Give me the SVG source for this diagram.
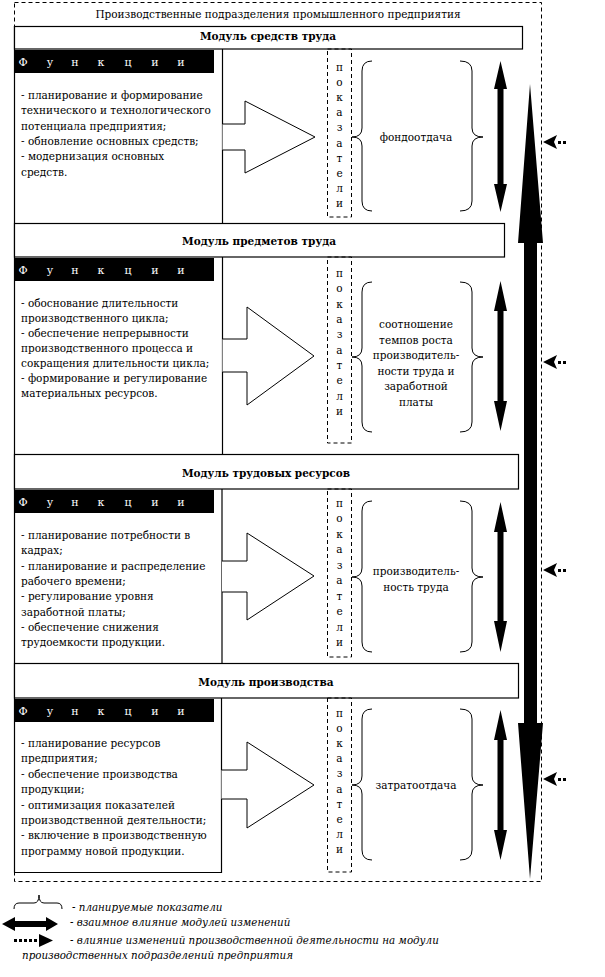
<svg xmlns="http://www.w3.org/2000/svg" width="605" height="977" viewBox="0 0 605 977">
<style>
text{font-family:"DejaVu Serif","Liberation Serif",serif;font-size:10.5px;fill:#000}
.hd{font-weight:bold;text-anchor:middle;font-size:10.5px}
.fn{fill:#fff;text-anchor:middle;font-size:11px}
.mid{text-anchor:middle}
.lg{font-style:italic;font-size:10.3px}
.box{fill:#fff;stroke:#000;stroke-width:1.2}
.ln{fill:none;stroke:#000;stroke-width:1.2}
.dash{fill:none;stroke:#000;stroke-width:1;stroke-dasharray:4 3}
.brace{fill:none;stroke:#000;stroke-width:1}
.blk{fill:#000}
.blockarrow{fill:#fff;stroke:#000;stroke-width:1}
</style>
<rect width="605" height="977" fill="#fff"/>

<g id="enterprise">
<rect x="14.5" y="2.5" width="527" height="879" class="dash"/>
<text x="278" y="18" class="mid">Производственные подразделения промышленного предприятия</text>
</g>

<g id="frame">
<line x1="14.5" y1="26" x2="14.5" y2="872.5" class="ln"/>
</g>

<g id="module1">
<rect x="14.5" y="26.5" width="508" height="22.5" class="box"/>
<text x="268" y="40" class="hd">Модуль средств труда</text>
<rect x="14" y="50" width="200" height="23" class="blk"/>
<text x="23 50 75 101 128 155 181" y="66" class="fn">Функции</text>
<line x1="222.5" y1="49" x2="222.5" y2="223.5" class="ln"/>
<text x="21" y="99">- планирование и формирование</text>
<text x="21" y="114.3">технического и технологического</text>
<text x="21" y="129.6">потенциала предприятия;</text>
<text x="21" y="144.9">- обновление основных средств;</text>
<text x="21" y="160.2">- модернизация основных</text>
<text x="21" y="175.5">средств.</text>
</g>

<g id="module2">
<rect x="14.5" y="223.5" width="490" height="33.5" class="box"/>
<text x="259" y="245" class="hd">Модуль предметов труда</text>
<rect x="14" y="258" width="200" height="23" class="blk"/>
<text x="23 50 75 101 128 155 181" y="274" class="fn">Функции</text>
<line x1="222.5" y1="257" x2="222.5" y2="454.5" class="ln"/>
<text x="21" y="307">- обоснование длительности</text>
<text x="21" y="322">производственного цикла;</text>
<text x="21" y="337">- обеспечение непрерывности</text>
<text x="21" y="352">производственного процесса и</text>
<text x="21" y="367">сокращения длительности цикла;</text>
<text x="21" y="382">- формирование и регулирование</text>
<text x="21" y="397">материальных ресурсов.</text>
</g>

<g id="module3">
<rect x="14.5" y="454.5" width="504" height="34.5" class="box"/>
<text x="266" y="477" class="hd">Модуль трудовых ресурсов</text>
<rect x="14" y="490" width="200" height="23" class="blk"/>
<text x="23 50 75 101 128 155 181" y="506" class="fn">Функции</text>
<line x1="222" y1="489" x2="222" y2="663.5" class="ln"/>
<text x="21" y="539">- планирование потребности в</text>
<text x="21" y="554.3">кадрах;</text>
<text x="21" y="569.6">- планирование и распределение</text>
<text x="21" y="584.9">рабочего времени;</text>
<text x="21" y="600.2">- регулирование уровня</text>
<text x="21" y="615.5">заработной платы;</text>
<text x="21" y="630.8">- обеспечение снижения</text>
<text x="21" y="646.1">трудоемкости продукции.</text>
</g>

<g id="module4">
<rect x="14.5" y="663.5" width="504" height="34.5" class="box"/>
<text x="266" y="686" class="hd">Модуль производства</text>
<rect x="14" y="699" width="200" height="23" class="blk"/>
<text x="23 50 75 101 128 155 181" y="715" class="fn">Функции</text>
<polyline points="221.5,698 221.5,872.5 14,872.5" class="ln"/>
<text x="21" y="747">- планирование ресурсов</text>
<text x="21" y="762.4">предприятия;</text>
<text x="21" y="777.8">- обеспечение производства</text>
<text x="21" y="793.2">продукции;</text>
<text x="21" y="808.6">- оптимизация показателей</text>
<text x="21" y="824">производственной деятельности;</text>
<text x="21" y="839.4">- включение в производственную</text>
<text x="21" y="854.8">программу новой продукции.</text>
</g>

<g id="indicators1">
<rect x="327.5" y="49" width="24" height="168" class="dash"/>
<text x="339.5 339.5 339.5 339.5 339.5 339.5 339.5 339.5 339.5 339.5" y="71 86.1 101.2 116.3 131.4 146.5 161.6 176.7 191.8 206.9" class="mid">показатели</text>
<path class="brace" d="M372,61 Q362,61 362,71 L362,128 Q362,137 352,137 Q362,137 362,146 L362,201 Q362,211 372,211"/>
<path class="brace" d="M460,61 Q472,61 472,71 L472,128 Q472,137 483,137 Q472,137 472,146 L472,201 Q472,211 460,211"/>
<text x="416" y="141" class="mid">фондоотдача</text>
</g>

<g id="indicators2">
<rect x="327.5" y="257" width="24" height="186" class="dash"/>
<text x="339.5 339.5 339.5 339.5 339.5 339.5 339.5 339.5 339.5 339.5" y="277 292.3 307.7 323 338.3 353.7 369 384.3 399.7 415" class="mid">показатели</text>
<path class="brace" d="M372,282 Q362,282 362,292 L362,348 Q362,357 352,357 Q362,357 362,366 L362,422 Q362,432 372,432"/>
<path class="brace" d="M460,282 Q472,282 472,292 L472,348 Q472,357 483,357 Q472,357 472,366 L472,422 Q472,432 460,432"/>
<text x="416" y="328" class="mid">соотношение</text>
<text x="416" y="343.5" class="mid">темпов роста</text>
<text x="416" y="359" class="mid">производитель-</text>
<text x="416" y="374.5" class="mid">ности труда и</text>
<text x="416" y="390" class="mid">заработной</text>
<text x="416" y="405.5" class="mid">платы</text>
</g>

<g id="indicators3">
<rect x="327.5" y="489" width="24" height="168" class="dash"/>
<text x="339.5 339.5 339.5 339.5 339.5 339.5 339.5 339.5 339.5 339.5" y="507 522.4 537.9 553.3 568.8 584.2 599.6 615.1 630.5 646" class="mid">показатели</text>
<path class="brace" d="M372,501 Q362,501 362,511 L362,568 Q362,577 352,577 Q362,577 362,586 L362,642 Q362,652 372,652"/>
<path class="brace" d="M460,501 Q472,501 472,511 L472,568 Q472,577 483,577 Q472,577 472,586 L472,642 Q472,652 460,652"/>
<text x="416" y="575" class="mid">производитель-</text>
<text x="416" y="591" class="mid">ность труда</text>
</g>

<g id="indicators4">
<rect x="327.5" y="698" width="24" height="174" class="dash"/>
<text x="339.5 339.5 339.5 339.5 339.5 339.5 339.5 339.5 339.5 339.5" y="717 732.1 747.2 762.3 777.4 792.5 807.6 822.7 837.8 852.9" class="mid">показатели</text>
<path class="brace" d="M372,709 Q362,709 362,719 L362,776 Q362,785 352,785 Q362,785 362,794 L362,850 Q362,860 372,860"/>
<path class="brace" d="M460,709 Q472,709 472,719 L472,776 Q472,785 483,785 Q472,785 472,794 L472,850 Q472,860 460,860"/>
<text x="416" y="789" class="mid">затратоотдача</text>
</g>

<g id="connectors">
<polyline class="blockarrow" points="222.5,124 245,124 245,101 315,137 245,173 245,150 222.5,150"/>
<polyline class="blockarrow" points="222.5,339 247,339 247,307 314,356 247,405 247,372 222.5,372"/>
<polyline class="blockarrow" points="222,561 247,561 247,533 314,576 247,620 247,592 222,592"/>
<polyline class="blockarrow" points="221.5,770 247,770 247,742 314,785 247,828 247,799 221.5,799"/>

<polygon class="blk" points="500.5,61 507,89 503.5,89 503.5,184 507,184 500.5,212 494,184 497.5,184 497.5,89 494,89"/>
<polygon class="blk" points="500.5,281 507,311 503.5,311 503.5,401 507,401 500.5,431 494,401 497.5,401 497.5,311 494,311"/>
<polygon class="blk" points="500.5,502 507,532 503.5,532 503.5,621 507,621 500.5,652 494,621 497.5,621 497.5,532 494,532"/>
<polygon class="blk" points="500.5,710 507,740 503.5,740 503.5,830 507,830 500.5,860 494,830 497.5,830 497.5,740 494,740"/>

<polygon class="blk" points="530,84 543,243 537,243 537,723 543,723 530,879 518,723 524,723 524,243 518,243"/>

<g id="dotted1"><polygon class="blk" points="543,142 557,135 554,142 557,149"/><rect x="558" y="141" width="3" height="3" class="blk"/><rect x="563" y="141" width="3" height="3" class="blk"/></g>
<g id="dotted2"><polygon class="blk" points="543,362 557,355 554,362 557,369"/><rect x="558" y="361" width="3" height="3" class="blk"/><rect x="563" y="361" width="3" height="3" class="blk"/></g>
<g id="dotted3"><polygon class="blk" points="543,570 557,563 554,570 557,577"/><rect x="558" y="569" width="3" height="3" class="blk"/><rect x="563" y="569" width="3" height="3" class="blk"/></g>
<g id="dotted4"><polygon class="blk" points="543,779 557,772 554,779 557,786"/><rect x="558" y="778" width="3" height="3" class="blk"/><rect x="563" y="778" width="3" height="3" class="blk"/></g>
</g>

<g id="legend">
<path class="brace" d="M14,909 Q14,903 19,903 L34,903 Q39,903 39,895 Q39,903 44,903 L57,903 Q62,903 62,909"/>
<text x="72" y="911" class="lg">- планируемые показатели</text>
<polygon class="blk" points="2,924 15,917 15,921 46,921 46,917 58,924 46,931 46,927 15,927 15,931"/>
<text x="70" y="926" class="lg">- взаимное влияние  модулей изменений</text>
<rect x="14" y="939" width="3" height="3" class="blk"/>
<rect x="19" y="939" width="3" height="3" class="blk"/>
<rect x="24" y="939" width="3" height="3" class="blk"/>
<rect x="29" y="939" width="3" height="3" class="blk"/>
<rect x="34" y="939" width="3" height="3" class="blk"/>
<polygon class="blk" points="39,934 53,940.5 39,947"/>
<text x="70" y="944" class="lg">- влияние изменений производственной деятельности на модули</text>
<text x="22" y="959" class="lg">производственных подразделений предприятия</text>
</g>
</svg>
